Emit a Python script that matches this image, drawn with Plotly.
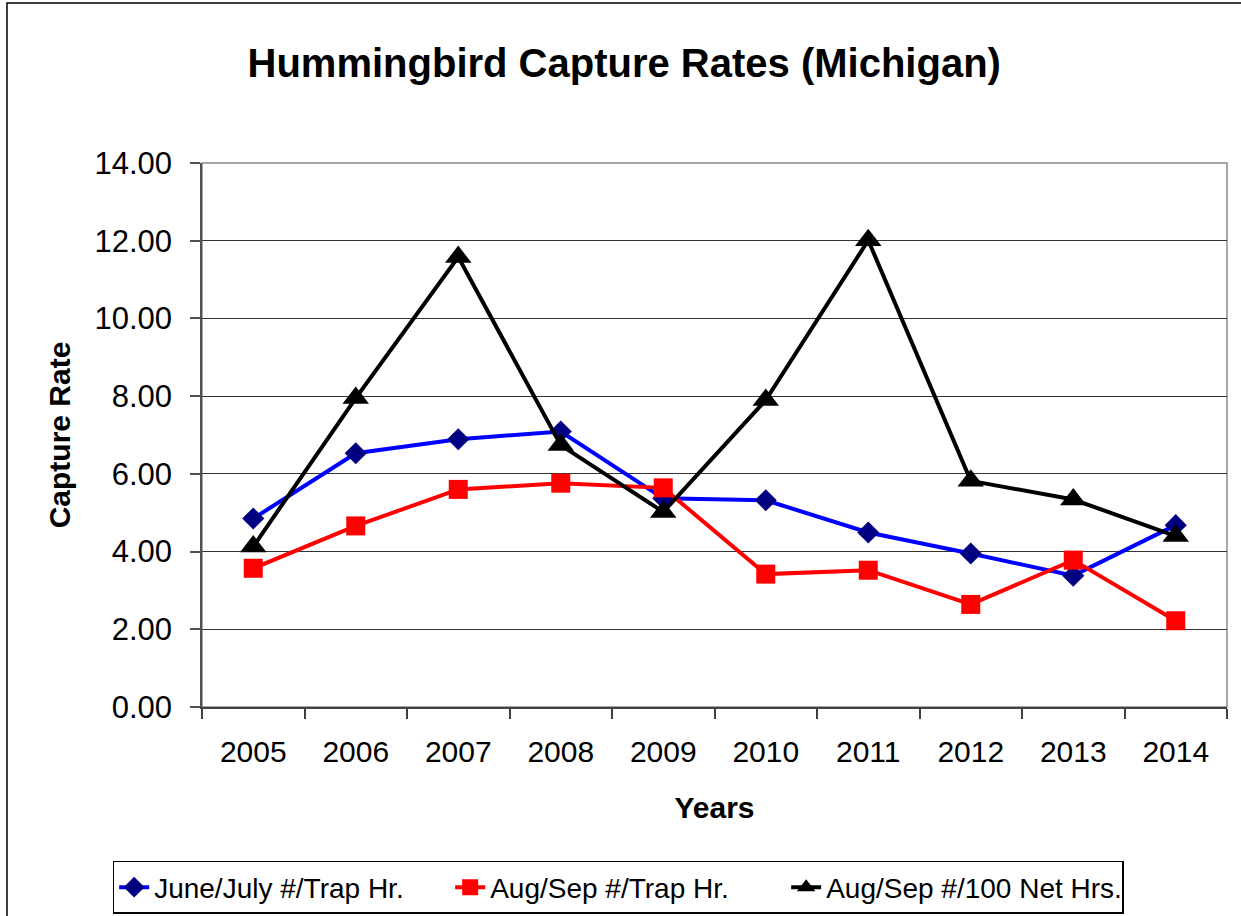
import plotly.graph_objects as go

years = ["2005", "2006", "2007", "2008", "2009", "2010", "2011", "2012", "2013", "2014"]
june_july_trap = [4.85, 6.53, 6.89, 7.09, 5.37, 5.32, 4.49, 3.95, 3.38, 4.68]
aug_sep_trap = [3.57, 4.66, 5.60, 5.76, 5.64, 3.42, 3.52, 2.64, 3.78, 2.22]
aug_sep_net = [4.13, 7.95, 11.58, 6.74, 5.02, 7.90, 12.01, 5.82, 5.34, 4.40]

series_names = ["June/July #/Trap Hr.", "Aug/Sep #/Trap Hr.", "Aug/Sep #/100 Net Hrs."]
y_ticks = [0, 2, 4, 6, 8, 10, 12, 14]

FONT = "Liberation Sans, Arial, sans-serif"

fig = go.Figure()
fig.add_trace(go.Scatter(
    x=years, y=june_july_trap, name=series_names[0], mode="lines+markers",
    line=dict(color="#0000FF", width=4),
    marker=dict(symbol="diamond", size=17, color="#000080", line=dict(width=0)),
))
fig.add_trace(go.Scatter(
    x=years, y=aug_sep_trap, name=series_names[1], mode="lines+markers",
    line=dict(color="#FF0000", width=4),
    marker=dict(symbol="square", size=19, color="#FF0000", line=dict(width=0)),
))
fig.add_trace(go.Scatter(
    x=years, y=aug_sep_net, name=series_names[2], mode="lines+markers",
    line=dict(color="#000000", width=4),
    marker=dict(symbol="triangle-up", size=23, color="#000000", line=dict(width=0)),
))

fig.update_layout(
    width=1241, height=916,
    margin=dict(l=202, r=14, t=163, b=209, autoexpand=False),
    paper_bgcolor="white", plot_bgcolor="white",
    font=dict(family=FONT, color="black"),
    title=dict(text="<b>Hummingbird Capture Rates (Michigan)</b>",
               font=dict(size=40, family=FONT, color="black"),
               x=0.503, xanchor="center", xref="container",
               y=1 - 63 / 916, yanchor="middle"),
    showlegend=True,
    legend=dict(orientation="h", x=0.406, xanchor="center", y=-0.283, yanchor="top",
                font=dict(size=28, family=FONT, color="black"),
                bgcolor="white", bordercolor="black", borderwidth=1.5,
                entrywidthmode="pixels", entrywidth=291),
    xaxis=dict(type="category", range=[-0.5, 9.5], tickson="boundaries",
               ticks="outside", ticklen=10, tickcolor="#404040", tickwidth=1.5,
               showline=True, linecolor="#404040", linewidth=2,
               showgrid=False, zeroline=False,
               tickfont=dict(size=30, family=FONT, color="black"),
               ticklabelstandoff=17,
               title=dict(text="<b>Years</b>", font=dict(size=30, family=FONT, color="black"),
                          standoff=30)),
    yaxis=dict(range=[0, 14], tickvals=y_ticks, tickformat=".2f",
               ticks="outside", ticklen=10, tickcolor="#505050", tickwidth=1.5,
               showline=True, linecolor="#505050", linewidth=1.5,
               showgrid=True, gridcolor="#333333", gridwidth=1,
               zeroline=False,
               tickfont=dict(size=31, family=FONT, color="black"),
               ticklabelstandoff=12,
               title=dict(text="<b>Capture Rate</b>", font=dict(size=30, family=FONT, color="black"),
                          standoff=15)),
    shapes=[
        dict(type="rect", xref="paper", yref="paper", x0=0, x1=1, y0=0, y1=1,
             line=dict(color="#8a8a8a", width=1.5), layer="below"),
        dict(type="rect", xref="paper", yref="paper",
             x0=(7 - 202) / 1025, x1=1.2, y0=-0.6, y1=(707 - 3) / 544,
             line=dict(color="black", width=1.5), layer="below"),
    ],
)

fig.write_html("out.html", config={"displayModeBar": False},
               post_script="document.body.style.margin='0';")
